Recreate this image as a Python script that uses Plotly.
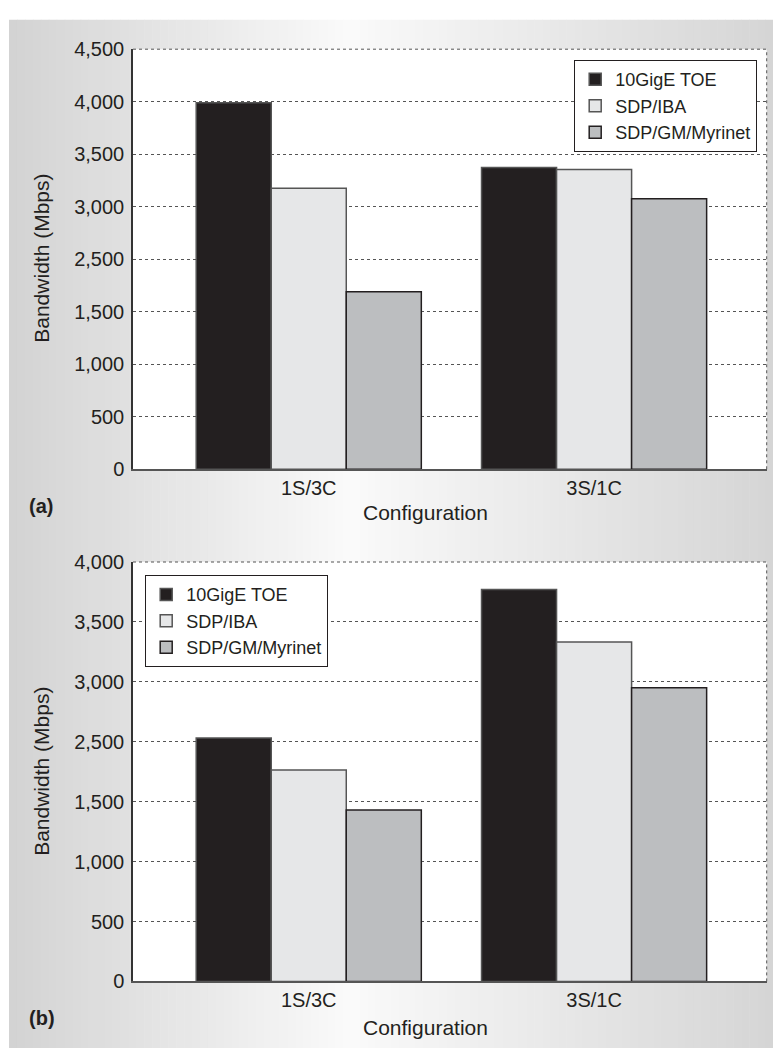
import plotly.graph_objects as go

W, H = 773, 1059

categories = ["1S/3C", "3S/1C"]
series_names = ["10GigE TOE", "SDP/IBA", "SDP/GM/Myrinet"]

# Panel (a) values (in axis units of the drawn gridlines)
a_toe = [3491, 2873]
a_iba = [2677, 2854]
a_gm = [1691, 2577]

# Panel (b) values
b_toe = [2032, 3270]
b_iba = [1765, 2833]
b_gm = [1430, 2451]

# Tick labels exactly as printed (the 2,000 label is missing in the original)
a_tickvals = [0, 500, 1000, 1500, 2000, 2500, 3000, 3500, 4000]
a_ticktext = ["0", "500", "1,000", "1,500", "2,500", "3,000", "3,500", "4,000", "4,500"]
b_tickvals = [0, 500, 1000, 1500, 2000, 2500, 3000, 3500]
b_ticktext = ["0", "500", "1,000", "1,500", "2,500", "3,000", "3,500", "4,000"]

fill_colors = ["#231f20", "#e6e7e8", "#bcbec0"]
line_colors = ["#555555", "#555555", "#231f20"]

FONT = "Liberation Sans, Arial, Helvetica, sans-serif"
TXT = "#231f20"

fig = go.Figure()

for vals, name, fc, lc in zip([a_toe, a_iba, a_gm], series_names, fill_colors, line_colors):
    fig.add_trace(go.Bar(x=categories, y=vals, name=name, xaxis="x", yaxis="y",
                         marker=dict(color=fc, line=dict(color=lc, width=1.5)),
                         legend="legend"))
for vals, name, fc, lc in zip([b_toe, b_iba, b_gm], series_names, fill_colors, line_colors):
    fig.add_trace(go.Bar(x=categories, y=vals, name=name, xaxis="x2", yaxis="y2",
                         marker=dict(color=fc, line=dict(color=lc, width=1.5)),
                         legend="legend2"))

def px2x(p):
    return p / W

def px2y(p):
    return (H - p) / H

xdom = [px2x(133), px2x(766.7)]
ya_dom = [px2y(468), px2y(39)]
yb_dom = [px2y(991), px2y(562.7)]

xrange_ = [-0.616, 1.605]

xaxis_common = dict(
    type="category", range=xrange_, domain=xdom,
    showline=True, linecolor="#555555", linewidth=1.5,
    showgrid=False, zeroline=False,
    ticks="", 
    tickfont=dict(family=FONT, size=20, color=TXT),
)
yaxis_common = dict(
    showline=True, linecolor="#333333", linewidth=1.5,
    showgrid=True, gridcolor="#555555", gridwidth=1, griddash="dot",
    zeroline=False, tickmode="array",
    ticks="outside", ticklen=3, tickcolor="rgba(0,0,0,0)",
    tickfont=dict(family=FONT, size=20, color=TXT),
)

legend_common = dict(bgcolor="white", bordercolor=TXT, borderwidth=1.2,
                     font=dict(family=FONT, size=18, color=TXT),
                     itemclick=False, tracegroupgap=0)

fig.update_layout(
    width=W, height=H,
    margin=dict(l=0, r=0, t=0, b=0),
    paper_bgcolor="white", plot_bgcolor="white",
    barmode="group", bargap=0.211, bargroupgap=0,
    font=dict(family=FONT, color=TXT),
    xaxis=dict(**xaxis_common, anchor="y"),
    yaxis=dict(**yaxis_common, domain=ya_dom, range=[0, 4000], anchor="x",
               tickvals=a_tickvals, ticktext=a_ticktext),
    xaxis2=dict(**xaxis_common, anchor="y2"),
    yaxis2=dict(**yaxis_common, domain=yb_dom, range=[0, 3500], anchor="x2",
                tickvals=b_tickvals, ticktext=b_ticktext),
    legend=dict(x=px2x(757), y=px2y(50), xanchor="right", yanchor="top", **legend_common),
    legend2=dict(x=px2x(145), y=px2y(576), xanchor="left", yanchor="top", **legend_common),
    showlegend=True,
)

# Background gradient (decoration)
shapes = []
x0p, x1p = 9, W
N = 96
def grey_at(p):
    pts = [(9, 211), (350, 250), (773, 213)]
    for (xa, ga), (xb, gb) in zip(pts[:-1], pts[1:]):
        if xa <= p <= xb:
            t = (p - xa) / (xb - xa)
            return ga + (gb - ga) * t
    return pts[-1][1]
step = (x1p - x0p) / N
for i in range(N):
    a = x0p + i * step
    b = a + step + 0.6
    g = int(round(grey_at(a + step / 2)))
    shapes.append(dict(type="rect", xref="paper", yref="paper",
                       x0=px2x(a), x1=min(px2x(b), 1), y0=0, y1=px2y(9),
                       line=dict(width=0), fillcolor=f"rgb({g},{g},{g})", layer="below"))
# white plot areas and dotted top/right borders
for yd in (ya_dom, yb_dom):
    shapes.append(dict(type="rect", xref="paper", yref="paper",
                       x0=xdom[0], x1=xdom[1], y0=yd[0], y1=yd[1],
                       line=dict(width=0), fillcolor="white", layer="below"))
    shapes.append(dict(type="line", xref="paper", yref="paper",
                       x0=xdom[0], x1=xdom[1], y0=yd[1], y1=yd[1],
                       line=dict(color="#555555", width=1, dash="dot")))
    shapes.append(dict(type="line", xref="paper", yref="paper",
                       x0=xdom[1], x1=xdom[1], y0=yd[0], y1=yd[1],
                       line=dict(color="#555555", width=1, dash="dot")))
fig.update_layout(shapes=shapes)

annotations = []
for ycen_title, ycen_conf, ylab, lab in [(253, 512, 505, "(a)"), (777, 1038, 1028, "(b)")]:
    annotations.append(dict(text="Bandwidth (Mbps)", xref="paper", yref="paper",
                            x=px2x(42), y=px2y(ycen_title), textangle=-90,
                            showarrow=False, xanchor="center", yanchor="middle",
                            font=dict(family=FONT, size=21, color=TXT)))
    annotations.append(dict(text="Configuration", xref="paper", yref="paper",
                            x=px2x(425.5), y=px2y(ycen_conf),
                            showarrow=False, xanchor="center", yanchor="middle",
                            font=dict(family=FONT, size=21, color=TXT)))
    annotations.append(dict(text="<b>" + lab + "</b>", xref="paper", yref="paper",
                            x=px2x(27), y=px2y(ylab),
                            showarrow=False, xanchor="left", yanchor="middle",
                            font=dict(family=FONT, size=20, color=TXT)))
fig.update_layout(annotations=annotations)

fig.write_html("out.html")
